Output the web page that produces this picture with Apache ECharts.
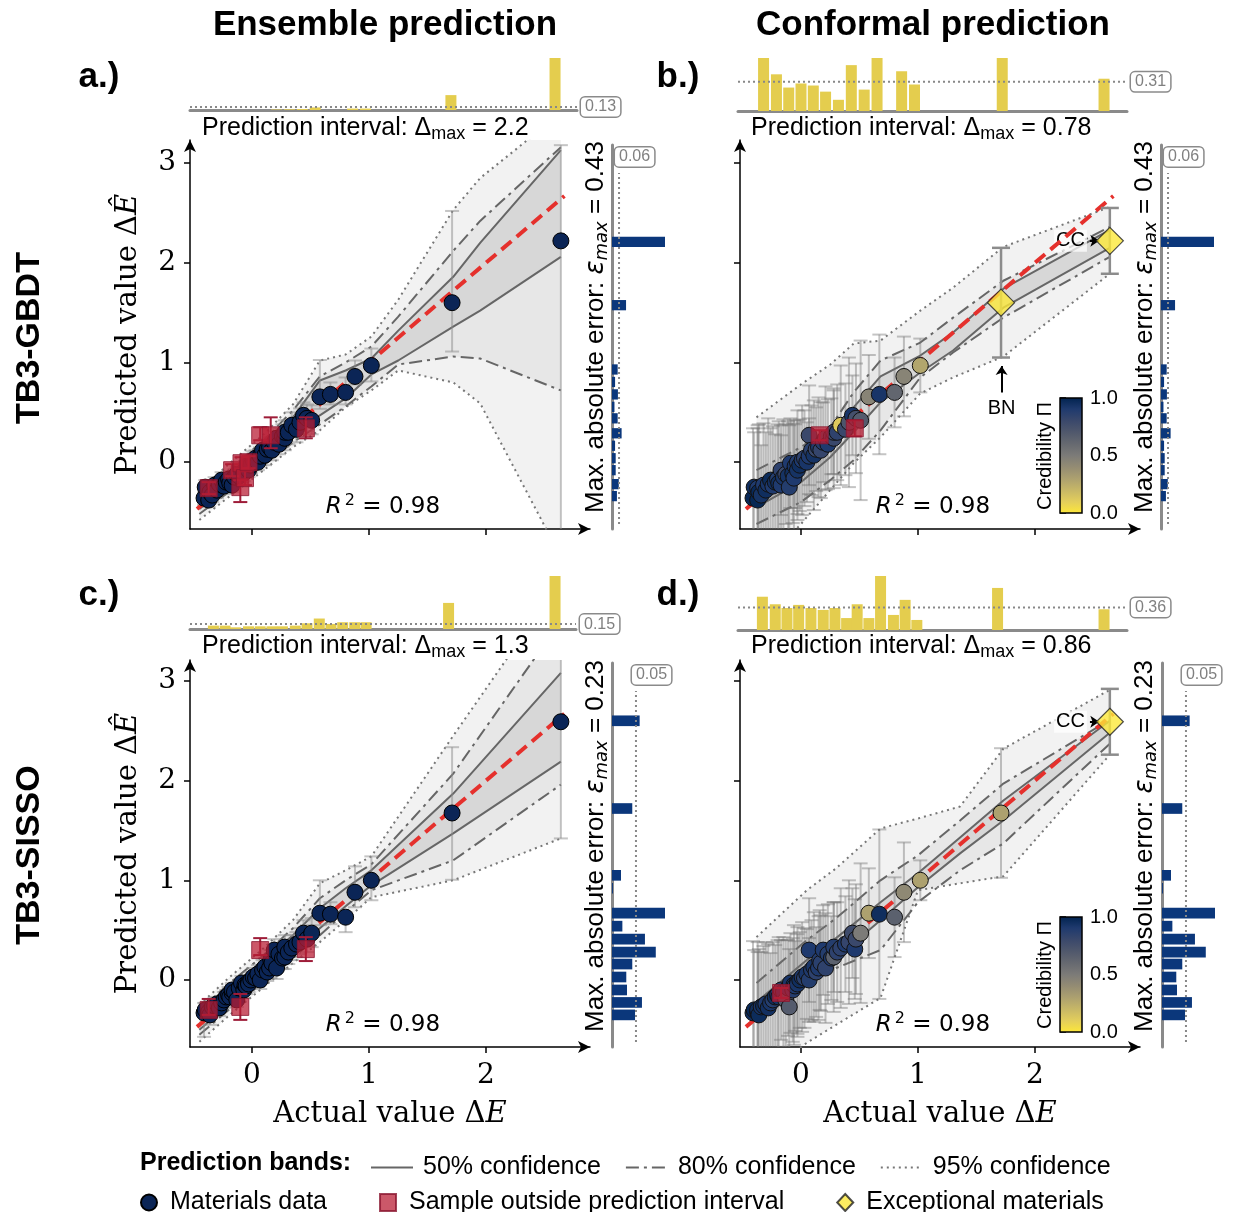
<!DOCTYPE html>
<html><head><meta charset="utf-8">
<script src="https://cdn.jsdelivr.net/npm/echarts@6/dist/echarts.min.js"></script>
<style>html,body{margin:0;padding:0;background:#fff}#chart{width:1235px;height:1212px}</style>
</head><body><div id="chart"></div>
<script>
const SANS = '"Liberation Sans", Arial, sans-serif';
const SERIF = '"DejaVu Serif", serif';
const DSANS = '"DejaVu Sans", sans-serif';

// ---------------- data ----------------
const actual = [-0.41,-0.40,-0.37,-0.37,-0.36,-0.34,-0.32,-0.30,-0.28,-0.26,-0.24,-0.22,-0.20,-0.19,-0.17,-0.17,-0.15,-0.13,-0.11,-0.10,-0.09,-0.07,-0.06,-0.05,-0.03,-0.03,-0.01,0.01,0.03,0.05,0.07,0.07,0.09,0.11,0.13,0.15,0.16,0.17,0.19,0.21,0.23,0.26,0.28,0.28,0.31,0.34,0.38,0.41,0.44,0.46,0.47,0.51,0.58,0.67,0.80,0.88,1.02,1.71,2.64];
const predGBDT = [-0.36,-0.25,-0.38,-0.26,-0.30,-0.33,-0.23,-0.28,-0.22,-0.18,-0.24,-0.20,-0.17,-0.21,-0.23,-0.08,-0.15,-0.12,-0.14,-0.25,-0.01,-0.11,-0.16,-0.04,0.00,-0.08,-0.03,0.02,0.04,0.00,0.27,0.06,0.12,0.07,0.13,0.15,0.27,0.12,0.20,0.24,0.18,0.26,0.24,0.30,0.30,0.37,0.33,0.40,0.47,0.34,0.44,0.42,0.655,0.68,0.70,0.86,0.97,1.60,2.22];
const predSISSO = [-0.33,-0.30,-0.32,-0.30,-0.35,-0.27,-0.26,-0.24,-0.28,-0.23,-0.20,-0.17,-0.15,-0.17,-0.13,-0.10,-0.12,-0.20,-0.08,-0.27,-0.03,-0.10,-0.05,-0.06,-0.02,-0.04,0.00,0.03,0.02,0.06,0.30,0.00,0.10,0.13,0.08,0.12,0.20,0.17,0.30,0.12,0.26,0.22,0.23,0.33,0.28,0.32,0.36,0.38,0.47,0.31,0.41,0.47,0.67,0.66,0.63,0.88,1.00,1.675,2.59];
const credB = [0.97,0.95,0.98,0.90,0.97,0.93,0.90,0.95,0.92,0.96,0.90,0.94,0.88,0.95,0.90,0.85,0.92,0.80,0.93,0.88,0.90,0.95,0.90,0.92,0.88,0.93,0.95,0.90,0.85,0.92,0.80,0.90,0.86,0.93,0.80,0.90,0.90,0.82,0.88,0.75,0.90,0.85,0.80,0.78,0.84,0.12,0.80,0.72,0.92,0.90,0.75,0.68,0.45,0.92,0.62,0.45,0.28,0.05,0.02];
const credD = [0.95,0.97,0.93,0.95,0.96,0.92,0.95,0.90,0.94,0.92,0.88,0.95,0.90,0.93,0.90,0.88,0.92,0.70,0.90,0.68,0.92,0.88,0.93,0.90,0.88,0.92,0.95,0.90,0.86,0.92,0.90,0.88,0.90,0.92,0.85,0.90,0.88,0.86,0.90,0.84,0.88,0.90,0.65,0.88,0.85,0.85,0.90,0.82,0.78,0.90,0.80,0.50,0.30,0.95,0.65,0.42,0.30,0.30,0.02];
const outsideA = [3,15,19,20,22,24,30,36,49];
const outsideB = [36,49];
const outsideC = [3,19,30,49];
const outsideD = [14];
const exceptionalB = [57,58];
const exceptionalD = [58];
const labelsB = {57:'BN', 58:'CC'};

const errUpA   = [0.06,0.07,0.06,0.06,0.07,0.06,0.08,0.07,0.07,0.08,0.07,0.08,0.08,0.07,0.08,0.06,0.08,0.07,0.08,0.07,0.06,0.08,0.07,0.08,0.06,0.08,0.08,0.09,0.08,0.09,0.08,0.09,0.10,0.09,0.10,0.10,0.18,0.10,0.11,0.10,0.11,0.12,0.11,0.12,0.12,0.13,0.12,0.14,0.13,0.11,0.14,0.15,0.37,0.12,0.15,0.16,0.17,0.92,0.96];
const errDownA = [0.07,0.06,0.07,0.06,0.06,0.07,0.07,0.08,0.07,0.07,0.08,0.07,0.08,0.07,0.07,0.06,0.08,0.08,0.07,0.15,0.06,0.08,0.07,0.08,0.06,0.07,0.08,0.08,0.09,0.08,0.05,0.09,0.09,0.10,0.09,0.10,0.13,0.10,0.10,0.11,0.10,0.11,0.12,0.11,0.12,0.12,0.13,0.12,0.13,0.10,0.13,0.14,0.12,0.10,0.12,0.08,0.16,0.49,3.00];
const errUpC   = [0.10,0.07,0.08,0.11,0.09,0.07,0.08,0.07,0.08,0.07,0.08,0.07,0.08,0.07,0.08,0.07,0.08,0.07,0.08,0.13,0.07,0.08,0.07,0.08,0.07,0.08,0.08,0.09,0.08,0.09,0.12,0.09,0.10,0.09,0.10,0.10,0.10,0.10,0.11,0.10,0.11,0.12,0.11,0.12,0.12,0.13,0.12,0.14,0.13,0.12,0.14,0.15,0.33,0.12,0.05,0.26,0.24,0.66,1.00];
const errDownC = [0.24,0.08,0.07,0.05,0.10,0.07,0.08,0.07,0.08,0.07,0.08,0.07,0.08,0.07,0.07,0.08,0.08,0.07,0.08,0.13,0.07,0.08,0.07,0.08,0.07,0.08,0.08,0.08,0.09,0.08,0.05,0.09,0.09,0.10,0.09,0.10,0.10,0.10,0.10,0.11,0.10,0.11,0.12,0.11,0.12,0.12,0.13,0.12,0.13,0.12,0.13,0.14,0.12,0.10,0.15,0.15,0.20,0.67,1.17];
const errB = [0.70,0.55,0.75,0.60,0.68,0.50,0.62,0.58,0.66,0.52,0.60,0.48,0.55,0.62,0.50,0.45,0.58,0.50,0.55,0.62,0.45,0.50,0.58,0.42,0.52,0.50,0.46,0.55,0.48,0.40,0.50,0.38,0.45,0.55,0.42,0.50,0.05,0.48,0.40,0.52,0.45,0.38,0.50,0.42,0.48,0.60,0.46,0.65,0.40,0.08,0.55,0.80,0.42,0.60,0.35,0.40,0.27,0.55,0.33];
const errD = [0.72,0.60,0.70,0.58,0.66,0.55,0.60,0.62,0.64,0.50,0.58,0.52,0.55,0.60,0.05,0.50,0.55,0.60,0.48,0.58,0.50,0.52,0.60,0.45,0.55,0.50,0.48,0.55,0.50,0.45,0.52,0.42,0.50,0.55,0.45,0.52,0.50,0.48,0.45,0.55,0.50,0.42,0.55,0.45,0.50,0.60,0.48,0.62,0.45,0.50,0.55,0.70,0.45,0.85,0.40,0.50,0.20,0.65,0.33];

// prediction bands (x knots, lower/upper edges)
const knotsA = [-0.45,-0.2,0.1,0.35,0.58,0.8,1.02,1.25,1.72,1.95,2.64];
const lo50A = [-0.47,-0.25,0.02,0.25,0.47,0.64,0.88,1.02,1.36,1.52,2.06];
const hi50A = [-0.38,-0.13,0.17,0.45,0.82,0.92,1.04,1.32,1.86,2.20,3.13];
const lo80A = [-0.52,-0.30,-0.03,0.20,0.38,0.56,0.76,0.98,1.06,1.04,0.72];
const hi80A = [-0.33,-0.08,0.22,0.52,0.86,1.00,1.16,1.46,2.12,2.42,3.16];
const lo95A = [-0.58,-0.35,-0.08,0.15,0.32,0.55,0.72,0.92,0.80,0.59,-0.95];
const hi95A = [-0.28,-0.02,0.28,0.58,1.02,1.08,1.26,1.63,2.53,2.85,3.50];

const knotsB = [-0.38,0.0,0.25,0.45,0.68,1.02,1.3,1.73,2.64];
const lo50B = [-0.45,-0.20,0.05,0.30,0.60,0.90,1.12,1.55,2.15];
const hi50B = [-0.20,0.07,0.30,0.55,0.86,1.07,1.30,1.74,2.33];
const lo80B = [-0.62,-0.40,-0.18,0.02,0.32,0.85,1.10,1.45,2.06];
const hi80B = [-0.08,0.15,0.35,0.70,1.02,1.20,1.45,1.82,2.36];
const lo95B = [-1.10,-0.62,-0.28,-0.01,0.25,0.69,0.85,1.06,1.89];
const hi95B = [0.45,0.78,0.98,1.19,1.22,1.52,1.75,2.16,2.56];

const knotsC = [-0.45,-0.2,0.1,0.35,0.58,0.8,1.02,1.72,2.64];
const lo50C = [-0.50,-0.25,0.03,0.28,0.52,0.74,0.95,1.47,2.19];
const hi50C = [-0.36,-0.10,0.20,0.45,0.72,0.92,1.10,1.87,3.08];
const lo80C = [-0.55,-0.30,-0.02,0.22,0.45,0.68,0.90,1.20,1.96];
const hi80C = [-0.30,-0.04,0.25,0.52,0.82,1.00,1.16,2.07,3.60];
const lo95C = [-0.62,-0.36,-0.07,0.17,0.38,0.60,0.83,1.00,1.42];
const hi95C = [-0.25,0.02,0.32,0.60,0.97,1.10,1.24,2.45,4.00];

const knotsD = [-0.38,0.05,0.3,0.68,1.0,1.36,1.73,2.64];
const lo50D = [-0.38,0.02,0.22,0.60,0.93,1.27,1.60,2.48];
const hi50D = [-0.22,0.20,0.42,0.78,1.07,1.43,1.80,2.60];
const lo80D = [-0.42,-0.05,0.12,0.30,0.78,1.10,1.37,2.37];
const hi80D = [-0.03,0.40,0.62,1.00,1.25,1.60,1.97,2.61];
const lo95D = [-1.00,-0.63,-0.45,-0.18,0.90,0.97,1.04,2.26];
const hi95D = [0.43,0.90,1.12,1.52,1.62,1.74,2.32,2.91];

// top histograms: prediction interval width per bin of actual value
const topCentersA = [0.21,0.32,0.43,0.54,0.86,0.97,1.70,2.59];
const topValsA    = [0.02,0.03,0.04,0.11,0.06,0.06,0.63,2.2];
const topCentersB = [-0.32,-0.21,-0.105,0.0,0.105,0.21,0.32,0.43,0.54,0.65,0.86,0.97,1.72,2.59];
const topValsB    = [0.78,0.54,0.345,0.405,0.375,0.285,0.165,0.675,0.315,0.78,0.585,0.39,0.78,0.475];
const topCentersC = [-0.33,-0.23,-0.14,-0.03,0.07,0.17,0.26,0.37,0.47,0.575,0.675,0.775,0.878,0.975,1.68,2.59];
const topValsC    = [0.083,0.083,0.041,0.066,0.066,0.066,0.066,0.083,0.14,0.257,0.124,0.166,0.166,0.166,0.64,1.3];
const topCentersD = [-0.33,-0.22,-0.12,-0.02,0.085,0.19,0.29,0.39,0.48,0.58,0.68,0.79,0.89,0.99,1.68,2.59];
const topValsD    = [0.53,0.41,0.35,0.40,0.35,0.32,0.35,0.19,0.41,0.19,0.86,0.24,0.48,0.16,0.67,0.33];

// right histograms: max absolute error per bin of predicted value
const errCentersGBDT = [2.21,1.575,0.93,0.805,0.68,0.555,0.44,0.29,0.165,0.04,-0.08,-0.22,-0.34];
const errValsGBDT    = [0.43,0.114,0.046,0.025,0.048,0.02,0.046,0.078,0.025,0.03,0.03,0.055,0.04];
const errCentersSISSO = [2.60,1.72,1.05,0.92,0.67,0.54,0.41,0.28,0.16,0.03,-0.10,-0.225,-0.35];
const errValsSISSO    = [0.12,0.088,0.039,0.004,0.23,0.045,0.143,0.19,0.088,0.062,0.065,0.13,0.10];

const intervalMaxText = ['2.2','0.78','1.3','0.86'];
const topRefValue = [0.13,0.43,0.12,0.36];
const topRefLabel = ['0.13','0.31','0.15','0.36'];
const emaxText = ['0.43','0.43','0.23','0.23'];
const rightRefValue = [0.057,0.057,0.104,0.104];
const rightRefLabel = ['0.06','0.06','0.05','0.05'];
const r2Text = ['0.98','0.98','0.98','0.98'];
const tickX = [0,1,2], tickY = [0,1,2,3], tickCred = [0,0.5,1];
const diagonalEnds = [-0.47, 2.67];

// ---------------- layout / style ----------------
const NAVY = '#0b2556', RED = 'rgba(184,28,52,0.92)', REDE = '#9e1c38', YEL = '#e4cd4e', RH = '#0b377b', DIA = '#fde83a';
const cividisR = ['#fee838','#e4cf5b','#c8b866','#ada16f','#948c73','#7c7b78','#666970','#50586c','#3a486b','#1f3a6e','#00224e'];
const layout = [
  {main:{left:190,top:140,width:400,height:389}, x0:-0.53,  y0:-0.67,  top:{left:190,top:58,width:387,height:52},  tx0:-0.53,   right:{left:612,top:145,width:60,height:384}, showX:false, showY:true},
  {main:{left:740,top:140,width:400,height:389}, x0:-0.521, y0:-0.67,  top:{left:738,top:58,width:389,height:53},  tx0:-0.5385, right:{left:1161,top:145,width:60,height:384}, showX:false, showY:false},
  {main:{left:190,top:660,width:400,height:387}, x0:-0.53,  y0:-0.672, top:{left:190,top:576,width:386,height:53}, tx0:-0.53,   right:{left:612,top:663,width:60,height:384}, showX:true, showY:true},
  {main:{left:740,top:660,width:400,height:387}, x0:-0.521, y0:-0.672, top:{left:738,top:576,width:389,height:54}, tx0:-0.5385, right:{left:1162,top:663,width:60,height:384}, showX:true, showY:false}
];
const panelData = [
  {pred:predGBDT, out:outsideA, exc:[], cred:null, up:errUpA, dn:errDownA, knots:knotsA, bands:[[lo95A,hi95A],[lo80A,hi80A],[lo50A,hi50A]], tc:topCentersA, tv:topValsA, rc:errCentersGBDT, rv:errValsGBDT, rh:0.113, conf:false},
  {pred:predGBDT, out:outsideB, exc:exceptionalB, cred:credB, up:errB, dn:errB, knots:knotsB, bands:[[lo95B,hi95B],[lo80B,hi80B],[lo50B,hi50B]], tc:topCentersB, tv:topValsB, rc:errCentersGBDT, rv:errValsGBDT, rh:0.113, conf:true},
  {pred:predSISSO, out:outsideC, exc:[], cred:null, up:errUpC, dn:errDownC, knots:knotsC, bands:[[lo95C,hi95C],[lo80C,hi80C],[lo50C,hi50C]], tc:topCentersC, tv:topValsC, rc:errCentersSISSO, rv:errValsSISSO, rh:0.117, conf:false},
  {pred:predSISSO, out:outsideD, exc:exceptionalD, cred:credD, up:errD, dn:errD, knots:knotsD, bands:[[lo95D,hi95D],[lo80D,hi80D],[lo50D,hi50D]], tc:topCentersD, tv:topValsD, rc:errCentersSISSO, rv:errValsSISSO, rh:0.117, conf:true}
];

const grids = [], xAxes = [], yAxes = [], series = [];
function addGrid(rect, xa, ya) {
  grids.push(Object.assign({containLabel:false}, rect));
  const g = grids.length - 1;
  xAxes.push(Object.assign({gridIndex:g}, xa));
  yAxes.push(Object.assign({gridIndex:g}, ya));
  return g;
}
const blackLine = {color:'#000', width:1.5};
function mainX(x0, w, show) {
  return {type:'value', min:x0, max:x0 + w/117, splitLine:{show:false},
    axisLine:{show:true, onZero:false, symbol:['none','arrow'], symbolSize:[9,12], lineStyle:blackLine},
    axisTick:{show:true, customValues:tickX, length:6, lineStyle:blackLine},
    axisLabel:{show:show, customValues:tickX, fontFamily:SERIF, fontSize:28, color:'#000', margin:15},
    name: show ? 'Actual value Δ{i|E}' : '', nameLocation:'middle', nameGap:53,
    nameTextStyle:{fontFamily:SERIF, fontSize:29, color:'#000', rich:{i:{fontFamily:SERIF, fontStyle:'italic', fontSize:29, color:'#000'}}}};
}
function mainY(y0, h, show) {
  return {type:'value', min:y0, max:y0 + h/99.7, splitLine:{show:false},
    axisLine:{show:true, onZero:false, symbol:['none','arrow'], symbolSize:[9,12], lineStyle:blackLine},
    axisTick:{show:true, customValues:tickY, length:6, lineStyle:blackLine},
    axisLabel:{show:show, customValues:tickY, fontFamily:SERIF, fontSize:28, color:'#000', margin:14},
    name: show ? 'Predicted value Δ{i|Ê}' : '', nameLocation:'middle', nameGap:47,
    nameTextStyle:{fontFamily:SERIF, fontSize:29, color:'#000', rich:{i:{fontFamily:SERIF, fontStyle:'italic', fontSize:29, color:'#000'}}}};
}
const grayAxis = {show:true, onZero:false, lineStyle:{color:'#8a8a8a', width:3}};

function bandFill(g, knots, lo, hi, color) {
  return {type:'custom', xAxisIndex:g, yAxisIndex:g, clip:true, silent:true, z:1,
    data: knots.map((k,i)=>[k, lo[i], hi[i]]), encode:{x:0, y:[1,2]},
    renderItem:(params, api)=>{
      if (params.dataIndex !== 0) return null;
      const pts = [];
      for (let i=0;i<knots.length;i++) pts.push(api.coord([knots[i], hi[i]]));
      for (let i=knots.length-1;i>=0;i--) pts.push(api.coord([knots[i], lo[i]]));
      return {type:'polygon', shape:{points:pts}, style:{fill:color}};
    }};
}
function bandLine(g, knots, vals, name, type, color, width) {
  return {type:'line', name:name, xAxisIndex:g, yAxisIndex:g, silent:true, z:2, symbol:'none', showSymbol:false,
    data: knots.map((k,i)=>[k, vals[i]]), lineStyle:{color:color, width:width, type:type}, itemStyle:{color:color}};
}
function errBars(g, idxs, xs, ys, dn, up, color, width, cap, z) {
  return {type:'custom', xAxisIndex:g, yAxisIndex:g, clip:true, silent:true, z:z,
    data: idxs.map(i=>[xs[i], ys[i]-dn[i], ys[i]+up[i]]), encode:{x:0, y:[1,2]},
    renderItem:(params, api)=>{
      const x = api.value(0);
      const a = api.coord([x, api.value(1)]), b = api.coord([x, api.value(2)]);
      const st = {stroke:color, lineWidth:width};
      return {type:'group', children:[
        {type:'line', shape:{x1:a[0], y1:a[1], x2:b[0], y2:b[1]}, style:st},
        {type:'line', shape:{x1:a[0]-cap, y1:a[1], x2:a[0]+cap, y2:a[1]}, style:st},
        {type:'line', shape:{x1:b[0]-cap, y1:b[1], x2:b[0]+cap, y2:b[1]}, style:st}]};
    }};
}
function topHist(g, centers, vals, w) {
  return {type:'custom', xAxisIndex:g, yAxisIndex:g, silent:true, z:2,
    data: centers.map((c,i)=>[c, vals[i]]), encode:{x:0, y:1},
    renderItem:(params, api)=>{
      const c = api.value(0), v = api.value(1);
      const a = api.coord([c - w/2, v]), b = api.coord([c + w/2, 0]);
      return {type:'rect', shape:{x:a[0], y:a[1], width:b[0]-a[0], height:b[1]-a[1]}, style:{fill:YEL}};
    }};
}
function rightHist(g, centers, vals, h) {
  return {type:'custom', xAxisIndex:g, yAxisIndex:g, silent:true, z:2,
    data: centers.map((c,i)=>[vals[i], c]), encode:{x:0, y:1},
    renderItem:(params, api)=>{
      const v = api.value(0), c = api.value(1);
      const a = api.coord([0, c + h/2]), b = api.coord([v, c - h/2]);
      return {type:'rect', shape:{x:a[0], y:a[1]+0.5, width:b[0]-a[0], height:b[1]-a[1]-1}, style:{fill:RH}};
    }};
}
const boxLabel = {show:true, fontFamily:SANS, fontSize:16, color:'#808080', backgroundColor:'#fff', borderColor:'#8a8a8a', borderWidth:1.5, borderRadius:4, padding:[2,4,1,4]};

const visualSeries = [];
layout.forEach((L, p) => {
  const D = panelData[p];
  const gm = addGrid(L.main, mainX(L.x0, L.main.width, L.showX), mainY(L.y0, L.main.height, L.showY));
  const tx1 = L.tx0 + L.top.width/117;
  const tmax = Math.max(...D.tv);
  const gt = addGrid(L.top,
    {type:'value', min:L.tx0, max:tx1, axisLine:grayAxis, axisTick:{show:false}, axisLabel:{show:false}, splitLine:{show:false}},
    {type:'value', min:0, max:tmax, show:false});
  const ry1 = L.y0 + L.right.height/99.7;
  const rmax = Math.max(...D.rv) * 60/53;
  const gr = addGrid(L.right,
    {type:'value', min:0, max:rmax, show:false},
    {type:'value', min:L.y0, max:ry1, axisLine:grayAxis, axisTick:{show:false}, axisLabel:{show:false}, splitLine:{show:false}});

  const fills = ['rgba(0,0,0,0.05)','rgba(0,0,0,0.045)','rgba(0,0,0,0.065)'];
  D.bands.forEach((b, k) => series.push(bandFill(gm, D.knots, b[0], b[1], fills[k])));
  const names = ['95% confidence','80% confidence','50% confidence'];
  const types = [[2,4],[13,5,3,5],'solid'];
  const cols = ['#777','#666','#666'];
  D.bands.forEach((b, k) => {
    series.push(bandLine(gm, D.knots, b[0], names[k], types[k], cols[k], 2));
    series.push(bandLine(gm, D.knots, b[1], names[k], types[k], cols[k], 2));
  });
  series.push({type:'line', xAxisIndex:gm, yAxisIndex:gm, silent:true, z:5, symbol:'none',
    data: diagonalEnds.map(v=>[v, v]), lineStyle:{color:'#e5302c', width:4, type:[13,7]}});

  const all = actual.map((_, i) => i);
  const normal = all.filter(i => D.out.indexOf(i) < 0 && D.exc.indexOf(i) < 0);
  const ebColor = D.conf ? 'rgba(115,115,115,0.42)' : 'rgba(140,140,140,0.5)';
  series.push(errBars(gm, normal, actual, D.pred, D.dn, D.up, ebColor, 2, 7, 3));
  series.push(errBars(gm, D.out, actual, D.pred, D.dn, D.up, REDE, 2, 7, 7));
  if (D.exc.length) series.push(errBars(gm, D.exc, actual, D.pred, D.dn, D.up, '#8c8c8c', 2.5, 9, 6));

  if (D.cred) {
    visualSeries.push(series.length);
    series.push({type:'scatter', name:'Materials data (credibility)', xAxisIndex:gm, yAxisIndex:gm, z:6, symbolSize:16,
      data: normal.map(i=>[actual[i], D.pred[i], D.cred[i]]),
      itemStyle:{borderColor:'#111', borderWidth:1, opacity:1}});
  } else {
    series.push({type:'scatter', name:'Materials data', xAxisIndex:gm, yAxisIndex:gm, z:6, symbolSize:16,
      data: normal.map(i=>[actual[i], D.pred[i]]),
      itemStyle:{color:NAVY, borderColor:'#000', borderWidth:1, opacity:1}});
  }
  series.push({type:'scatter', name:'Sample outside prediction interval', symbol:'rect', xAxisIndex:gm, yAxisIndex:gm, z:8, symbolSize:17,
    data: D.out.map(i=>[actual[i], D.pred[i]]),
    itemStyle:{color:RED, borderColor:'#8a1630', borderWidth:1}});
  if (D.exc.length) {
    const isB = p === 1;
    const ml = [];
    if (isB) ml.push([{coord:[1.715, 0.70], symbol:'none', label:{show:true, position:'start', formatter:labelsB[57], distance:6, fontFamily:SANS, fontSize:20, color:'#000'}}, {coord:[1.715, 0.965], symbol:'arrow'}]);
    const yc = D.pred[58];
    ml.push([{coord:[2.47, yc], symbol:'none', label:{show:true, position:'start', formatter:labelsB[58], distance:3, fontFamily:SANS, fontSize:20, color:'#000', backgroundColor:'rgba(255,255,255,0.75)', padding:[1,2]}}, {coord:[2.55, yc], symbol:'arrow'}]);
    series.push({type:'scatter', name:'Exceptional materials', symbol:'diamond', xAxisIndex:gm, yAxisIndex:gm, z:9, symbolSize:27,
      data: D.exc.map(i=>[actual[i], D.pred[i]]),
      itemStyle:{color:DIA, borderColor:'#222', borderWidth:1.2},
      markLine:{silent:true, animation:false, symbolSize:9, lineStyle:{color:'#000', width:2, type:'solid'}, emphasis:{disabled:true}, data:ml}});
  }
  series.push(topHist(gt, D.tc, D.tv, 0.094));
  series.push({type:'line', xAxisIndex:gt, yAxisIndex:gt, silent:true, z:3, symbol:'none',
    data:[[L.tx0, topRefValue[p]],[tx1, topRefValue[p]]], lineStyle:{color:'#888', width:2, type:[2,3]},
    endLabel:Object.assign({formatter:topRefLabel[p], distance:4}, boxLabel)});
  series.push(rightHist(gr, D.rc, D.rv, D.rh));
  series.push({type:'line', xAxisIndex:gr, yAxisIndex:gr, silent:true, z:3, symbol:'none',
    data:[[rightRefValue[p], L.y0 + 0.05],[rightRefValue[p], ry1 - 0.28]], lineStyle:{color:'#888', width:2, type:[2,3]},
    endLabel:Object.assign({formatter:rightRefLabel[p], distance:2, offset:[-6,-16]}, boxLabel)});
});

// colour bars (credibility)
[398, 917].forEach(t => {
  const g = addGrid({left:1060, top:t, width:22, height:115},
    {type:'value', min:0, max:1, show:false},
    {type:'value', min:0, max:1, position:'right', splitLine:{show:false}, axisLine:{show:false},
     axisTick:{show:true, customValues:tickCred, length:6, lineStyle:blackLine},
     axisLabel:{show:true, customValues:tickCred, formatter:v=>v.toFixed(1), fontFamily:SANS, fontSize:20, color:'#000', margin:8}});
  series.push({type:'custom', xAxisIndex:g, yAxisIndex:g, silent:true, z:10, data:[[0,0],[1,1]], encode:{x:0,y:1},
    renderItem:(params, api)=>{
      if (params.dataIndex !== 0) return null;
      const a = api.coord([0,1]), b = api.coord([1,0]);
      const stops = cividisR.map((c,i)=>({offset:1 - i/(cividisR.length-1), color:c}));
      return {type:'rect', shape:{x:a[0], y:a[1], width:b[0]-a[0], height:b[1]-a[1]},
        style:{fill:new echarts.graphic.LinearGradient(0,0,0,1, stops.reverse()), stroke:'#000', lineWidth:1.5}};
    }});
});

// ---------------- texts ----------------
function txt(x, y, text, st, rot) {
  return {type:'text', x:x, y:y, rotation:rot||0, z:100, silent:true,
    style:Object.assign({text:text, fill:'#000', fontFamily:SANS, fontSize:25, align:'center', verticalAlign:'middle'}, st)};
}
const subRich = {s:{fontFamily:SANS, fontSize:18, fill:'#000', padding:[12,0,0,0]}};
const graphic = [
  txt(385, 25, 'Ensemble prediction', {fontSize:35, fontWeight:'bold'}),
  txt(933, 25, 'Conformal prediction', {fontSize:35, fontWeight:'bold'}),
  txt(99, 77, 'a.)', {fontSize:35, fontWeight:'bold'}),
  txt(678, 77, 'b.)', {fontSize:35, fontWeight:'bold'}),
  txt(99, 595, 'c.)', {fontSize:35, fontWeight:'bold'}),
  txt(678, 595, 'd.)', {fontSize:35, fontWeight:'bold'}),
  txt(30, 338, 'TB3-GBDT', {fontSize:34, fontWeight:'bold'}, Math.PI/2),
  txt(30, 855, 'TB3-SISSO', {fontSize:34, fontWeight:'bold'}, Math.PI/2),
  txt(140, 1163, 'Prediction bands:', {fontSize:25, fontWeight:'bold', align:'left'})
];
const ipos = [[202,128],[751,128],[202,646],[751,646]];
const rpos = [[383,507],[933,507],[383,1025],[933,1025]];
const epos = [[596,327],[1145,327],[596,846],[1145,846]];
for (let p = 0; p < 4; p++) {
  graphic.push(txt(ipos[p][0], ipos[p][1], 'Prediction interval: Δ{s|max} = ' + intervalMaxText[p], {align:'left', fontSize:25, rich:subRich}));
  graphic.push(txt(rpos[p][0], rpos[p][1], '{r|R}{u|2} = ' + r2Text[p], {fontFamily:DSANS, fontSize:23,
    rich:{r:{fontFamily:DSANS, fontStyle:'italic', fontSize:23, fill:'#000'}, u:{fontFamily:DSANS, fontSize:16, fill:'#000', padding:[0,0,12,3]}}}));
  graphic.push(txt(epos[p][0], epos[p][1], 'Max. absolute error: {e|ε}{s|max} = ' + emaxText[p], {fontSize:26,
    rich:{e:{fontFamily:DSANS, fontStyle:'italic', fontSize:26, fill:'#000'}, s:{fontFamily:DSANS, fontStyle:'italic', fontSize:18, fill:'#000', padding:[12,0,0,0]}}}, Math.PI/2));
}
graphic.push(txt(1045, 456, 'Credibility Π', {fontSize:20}, Math.PI/2));
graphic.push(txt(1045, 975, 'Credibility Π', {fontSize:20}, Math.PI/2));

const legendText = {fontFamily:SANS, fontSize:25, color:'#000'};
const option = {
  animation:false,
  backgroundColor:'#fff',
  grid:grids, xAxis:xAxes, yAxis:yAxes, series:series, graphic:graphic,
  visualMap:[{type:'continuous', show:false, dimension:2, min:0, max:1, seriesIndex:visualSeries, inRange:{color:cividisR}}],
  legend:[
    {selectedMode:false, left:365, top:1150, itemWidth:42, itemHeight:14, itemGap:24, itemStyle:{opacity:0},
     textStyle:Object.assign({padding:[0,0,0,5]}, legendText),
     data:['50% confidence','80% confidence','95% confidence']},
    {selectedMode:false, left:135, top:1185, itemWidth:16, itemHeight:17, itemGap:52,
     textStyle:Object.assign({padding:[0,0,0,8]}, legendText),
     data:[{name:'Materials data', icon:'circle'},{name:'Sample outside prediction interval', icon:'rect'},{name:'Exceptional materials', icon:'diamond'}]}
  ]
};
const chart = echarts.init(document.getElementById('chart'));
chart.setOption(option);
</script></body></html>
